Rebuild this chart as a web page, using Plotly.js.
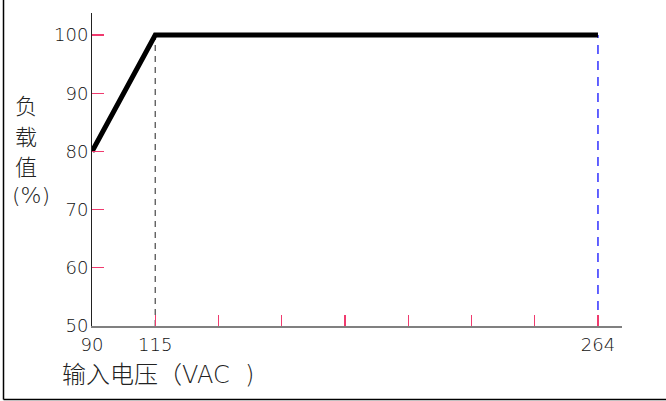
<!DOCTYPE html>
<html>
<head>
<meta charset="utf-8">
<script src="https://cdn.plot.ly/plotly-3.0.1.min.js"></script>
<style>html,body{margin:0;padding:0;background:#fff;}#chart{width:666px;height:401px;}</style>
</head>
<body>
<div id="chart"></div>
<script>
// ---- data ----
var tickLabels = ['90', '115', '', '', '', '', '', '', '264'];
var voltage = ['90', '115', '264'];
var load = [80, 100, 100];
var yTicks = [50, 60, 70, 80, 90, 100];
var guideVoltage = ['115', '264'];
var yTitleChars = ['负', '载', '值', '(%)'];
var xTitleMain = '输入电压（';
var xTitleUnit = 'VAC  )';

var xPos = voltage.map(function (v) { return tickLabels.indexOf(v); });
var tickPos = tickLabels.map(function (_, i) { return i; });

var traces = [];
var guideColors = ['#555555', '#1010ff'];
var guideDash = ['6px,5px', '9px,7px'];
guideVoltage.forEach(function (v, i) {
  var xi = tickLabels.indexOf(v);
  var yTop = load[voltage.indexOf(v)];
  traces.push({
    x: [xi, xi], y: [yTicks[0], yTop], mode: 'lines', type: 'scatter',
    line: {color: guideColors[i], width: 1.3, dash: guideDash[i]},
    hoverinfo: 'skip', showlegend: false
  });
});
traces.push({
  x: xPos, y: load, mode: 'lines', type: 'scatter',
  line: {color: '#000000', width: 5},
  showlegend: false
});

var F = 'DejaVu Sans';
var CJK = 'Noto Sans CJK SC';
var annotations = yTitleChars.map(function (c, i) {
  return {
    text: c, xref: 'paper', yref: 'paper',
    x: ((i === 3 ? 31 : 26) - 92) / 530, y: (326 - (104 + i * 30.5)) / 313,
    xanchor: 'center', yanchor: 'middle', showarrow: false,
    font: {family: i === 3 ? F : CJK, size: 22, color: '#222', weight: i === 3 ? 200 : 300}
  };
});
annotations.push({
  text: xTitleMain + '<span style="font-family:DejaVu Sans;font-weight:200;font-size:24px">' + xTitleUnit + '</span>',
  xref: 'paper', yref: 'paper',
  x: (60 - 92) / 530, y: (326 - 372) / 313,
  xanchor: 'left', yanchor: 'middle', showarrow: false,
  font: {family: CJK, size: 24, color: '#222', weight: 300}
});

var layout = {
  width: 666, height: 401,
  margin: {l: 92, r: 44, t: 13, b: 75},
  paper_bgcolor: '#ffffff', plot_bgcolor: '#ffffff',
  showlegend: false,
  xaxis: {
    range: [0, 8.38], tickmode: 'array', tickvals: tickPos, ticktext: tickLabels,
    ticks: 'inside', ticklen: 11, tickwidth: 1.3, tickcolor: '#f03a6e',
    showgrid: false, zeroline: false, showline: true, linecolor: '#808080', linewidth: 2,
    tickfont: {family: F, size: 18, color: '#111', weight: 200}, ticklabelstandoff: 1
  },
  yaxis: {
    range: [50, 103.8], tickmode: 'array', tickvals: yTicks,
    ticks: 'inside', ticklen: 12, tickwidth: 1.3, tickcolor: '#f03a6e',
    showgrid: false, zeroline: false, showline: true, linecolor: '#222', linewidth: 1,
    tickfont: {family: F, size: 18, color: '#111', weight: 200}, ticklabelstandoff: -1
  },
  annotations: annotations,
  shapes: [
    {type: 'line', xref: 'paper', yref: 'paper', x0: (3.5 - 92) / 530, x1: (3.5 - 92) / 530,
     y0: (326 - 0) / 313, y1: (326 - 399.5) / 313, line: {color: '#000', width: 1.5}},
    {type: 'line', xref: 'paper', yref: 'paper', x0: (3.5 - 92) / 530, x1: (666 - 92) / 530,
     y0: (326 - 399.5) / 313, y1: (326 - 399.5) / 313, line: {color: '#000', width: 1.5}}
  ]
};

Plotly.newPlot('chart', traces, layout, {displayModeBar: false, staticPlot: true});
</script>
</body>
</html>
